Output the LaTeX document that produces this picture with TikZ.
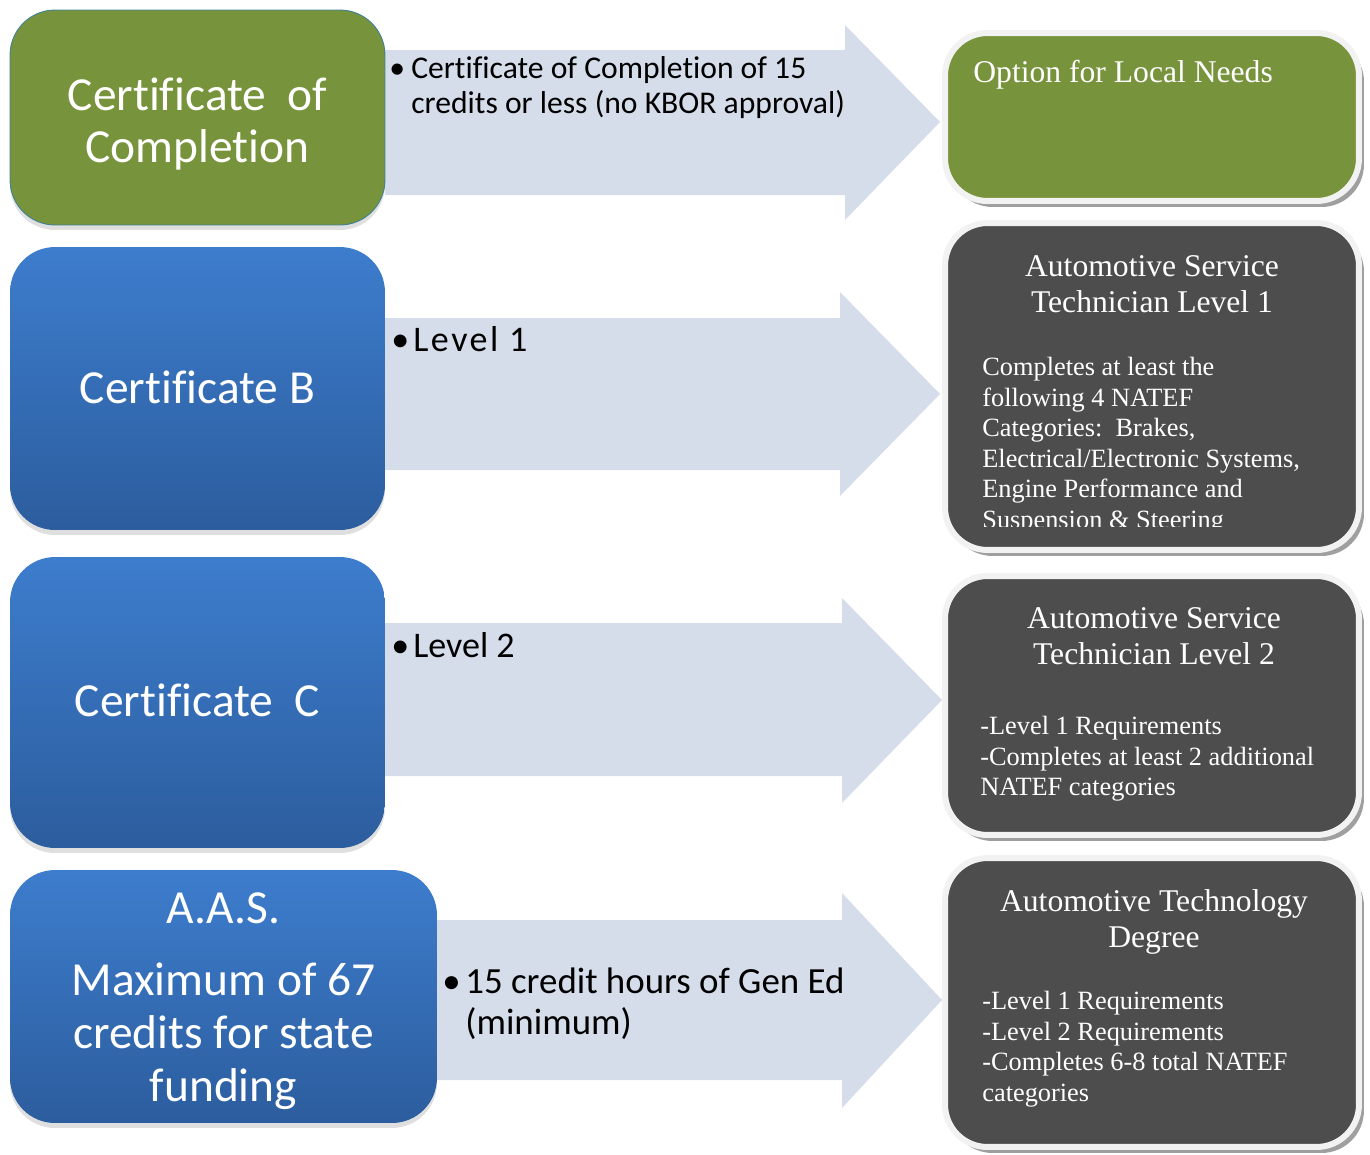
\documentclass[tikz,border=0pt]{standalone}
\usepackage{xcolor}
\usepackage{fontspec}
\setmainfont{Liberation Serif}
\newfontfamily\calfont[Ligatures=NoCommon]{Carlito}
\usepackage{tikz}
\usetikzlibrary{shadows}
\usetikzlibrary{shapes,arrows,positioning}

\definecolor{certgreen}{RGB}{119,147,60}
\definecolor{certbluetop}{RGB}{61,125,205}
\definecolor{certbluebot}{RGB}{44,93,158}
\definecolor{arrowgray}{RGB}{213,220,234}
\definecolor{levelgray}{RGB}{77,77,77}
\definecolor{rimgray}{RGB}{242,242,242}

\tikzset{
    certbox/.style={
        rounded corners=0.9cm,
        minimum width=7.5cm,
        inner sep=0pt,
        drop shadow={shadow xshift=0pt, shadow yshift=-0.1cm, opacity=0.25},
    },
    greenbox/.style={certbox, fill=certgreen, draw={rgb,255:red,62;green,128;blue,150}, line width=0.5pt},
    bluebox/.style={certbox, top color=certbluetop, bottom color=certbluebot},
    certtext/.style={
        inner sep=0pt,
        align=center,
        text=white,
        font=\calfont\fontsize{27}{30}\selectfont,
    },
    levelbox/.style={
        rounded corners=0.85cm,
        minimum width=8.28cm,
        draw=rimgray,
        line width=0.12cm,
        fill=levelgray,
        drop shadow={shadow xshift=0.1cm, shadow yshift=-0.12cm, fill=gray!75, opacity=1},
    },
    bigarrow/.style={fill=arrowgray},
    notetext/.style={inner sep=0pt, align=left, font=\calfont\fontsize{18}{20}\selectfont},
    titletext/.style={inner sep=0pt, align=center, text=white, font=\fontsize{18}{20.5}\selectfont},
    bodytext/.style={inner sep=0pt, align=left, text=white, font=\fontsize{15}{17.4}\selectfont},
}

\begin{document}
\begin{tikzpicture}[x=0.02cm, y=-0.02cm]
        \useasboundingbox (0,0) rectangle (1370,1154);

        % arrows
        \fill[bigarrow] (385,50) -- (845,50) -- (845,25) -- (940,122)
            -- (845,220) -- (845,195) -- (385,195) -- cycle;
        \fill[bigarrow] (385,318) -- (840,318) -- (840,292) -- (940,394)
            -- (840,496) -- (840,470) -- (385,470) -- cycle;
        \fill[bigarrow] (385,623) -- (842,623) -- (842,598) -- (942,700)
            -- (842,803) -- (842,776) -- (385,776) -- cycle;
        \fill[bigarrow] (437,920) -- (842,920) -- (842,893) -- (942,1000)
            -- (842,1108) -- (842,1080) -- (437,1080) -- cycle;

        % certificates
        \node[greenbox, minimum height=4.3cm] (certcomp) at (197.5,117.5) {};
        \node[bluebox, minimum height=5.66cm] (certb) at (197.5,388.5) {};
        \node[bluebox, minimum height=5.82cm] (certc) at (197.5,702.5) {};
        \node[bluebox, minimum width=8.54cm, minimum height=5.06cm] (aas) at (223.5,996.5) {};

        \node[certtext] (certcomptext) at ([yshift=-0.13cm]certcomp.center)
            {Certificate\ \ of\\Completion};
        \node[certtext] (certbtext) at ([yshift=0.03cm]certb.center) {Certificate B};
        \node[certtext] (certctext) at ([yshift=0.04cm]certc.center) {Certificate\ \ C};
        \node[certtext] (aastext) at ([yshift=-0.09cm]aas.center)
            {A.A.S.\\[11pt]Maximum of 67\\credits for state\\funding};

        % arrow notes
        \node[notetext, anchor=north west] (notecomp) at (389,56)
            {\makebox[0.44cm][l]{\textbullet}Certificate of Completion of 15\\
             \hspace*{0.44cm}credits or less (no KBOR approval)};
        \node[notetext, anchor=base west, font=\calfont\fontsize{20.5}{23}\selectfont] (noteone) at (391,351)
            {\makebox[0.44cm][l]{\textbullet}{\addfontfeature{LetterSpace=7}Level 1}};
        \node[notetext, anchor=base west, font=\calfont\fontsize{20.5}{23}\selectfont] (notetwo) at (391,657)
            {\makebox[0.44cm][l]{\textbullet}Level 2};
        \node[notetext, anchor=north west, font=\calfont\fontsize{21}{23.3}\selectfont] (notegened) at (442,968)
            {\makebox[0.46cm][l]{\textbullet}15 credit hours of Gen Ed\\
             \hspace*{0.46cm}(minimum)};

        % levels
        \node[levelbox, fill=certgreen, minimum height=3.36cm] (localneeds) at (1152,117) {};
        \node[levelbox, minimum height=6.54cm] (lvlone) at (1152,386.5) {};
        \node[levelbox, minimum height=5.18cm] (lvltwo) at (1152,705.5) {};
        \node[levelbox, minimum height=5.78cm] (atdegree) at (1152,1002.5) {};

        \node[titletext, anchor=base west] (localtitle) at (973,82) {Option for Local Needs};

        \node[titletext, anchor=north] (onetitle) at (1152,255)
            {Automotive Service\\Technician Level 1};
        \begin{scope}
            \clip (950,225) rectangle (1356,526);
            \node[bodytext, anchor=north west] (onebody) at (982,357)
                {Completes at least the\\following 4 NATEF\\Categories:\ \ Brakes,\\
                 Electrical/Electronic Systems,\\Engine Performance and\\
                 Suspension \& Steering};
        \end{scope}

        \node[titletext, anchor=north] (twotitle) at (1154,607)
            {Automotive Service\\Technician Level 2};
        \node[bodytext, anchor=north west] (twobody) at (980,716)
            {-Level 1 Requirements\\-Completes at least 2 additional\\NATEF categories};

        \node[titletext, anchor=north] (degreetitle) at (1154,889)
            {Automotive Technology\\Degree};
        \node[bodytext, anchor=north west] (degreebody) at (982,991)
            {-Level 1 Requirements\\-Level 2 Requirements\\-Completes 6-8 total NATEF\\categories};
    \end{tikzpicture}
\end{document}
